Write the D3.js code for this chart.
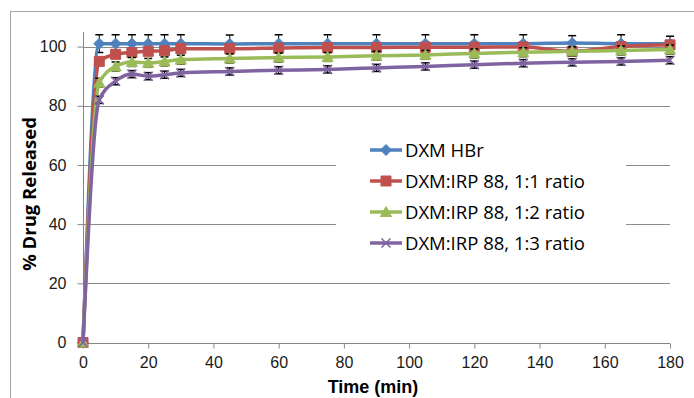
<!DOCTYPE html>
<html lang="en">
  <head>
    <meta charset="UTF-8" />
    <title>Drug release</title>
    <script src="https://d3js.org/d3.v7.min.js" charset="utf-8"></script>
    <style>
      body { margin: 0; background: #fff; }
      text { font-family: "Open Sans", "Liberation Sans", sans-serif; }
    </style>
  </head>
  <body>
    <div id="chart"></div>
    <script>
      // time points (min)
      const times = [0, 5, 10, 15, 20, 25, 30, 45, 60, 75, 90, 105, 120, 135, 150, 165, 180];

      const hbr = [0, 101, 101, 101, 101, 101, 101, 100.9, 101, 101, 101, 101, 101, 101, 101.2, 101, 101];
      const ratio11 = [0, 95, 97.4, 98, 98.4, 98.6, 99.3, 99.3, 99.5, 99.7, 99.7, 99.8, 99.8, 99.9, 98.4, 100, 100.6];
      const ratio12 = [0, 87.8, 93.3, 94.8, 94.5, 95, 95.6, 96, 96.3, 96.5, 96.9, 97.2, 97.7, 98.1, 98.4, 98.7, 99];
      const ratio13 = [0, 82, 88.3, 90.7, 90, 90.5, 91.1, 91.6, 92, 92.3, 92.8, 93.3, 93.9, 94.4, 94.7, 95, 95.4];

      const hbrErr = [0, 3, 3, 3, 3, 3, 3, 3, 3, 3, 3, 3, 3, 3, 2.5, 3, 2.5];
      const ratio11Err = [0, 1, 1, 1, 1, 1, 1, 1, 1, 1, 1, 1, 1, 1, 1, 1, 1];
      const ratio12Err = [0, 1.5, 1.5, 1.5, 1.5, 1.5, 1.5, 1.5, 1.5, 1.5, 1.5, 1.5, 1.5, 1.5, 1.5, 1.5, 1.5];
      const ratio13Err = [0, 1.2, 1.2, 1.2, 1.2, 1.2, 1.2, 1.2, 1.2, 1.2, 1.2, 1.2, 1.2, 1.2, 1.2, 1.2, 1.2];

      const names = ["DXM HBr", "DXM:IRP 88, 1:1 ratio", "DXM:IRP 88, 1:2 ratio", "DXM:IRP 88, 1:3 ratio"];
      const colors = ["#4F81BD", "#C0504D", "#9BBB59", "#8064A2"];
      const shapes = ["diamond", "square", "triangle", "cross"];

      const xTicks = [0, 20, 40, 60, 80, 100, 120, 140, 160, 180];
      const yTicks = [0, 20, 40, 60, 80, 100];

      const series = [hbr, ratio11, ratio12, ratio13].map((vals, i) => ({
        name: names[i],
        color: colors[i],
        shape: shapes[i],
        err: [hbrErr, ratio11Err, ratio12Err, ratio13Err][i],
        values: vals
      }));

      const width = 694;
      const height = 398;

      const x = d3.scaleLinear().domain([0, 180]).range([83, 670]);
      const y = d3.scaleLinear().domain([0, 105]).range([342.5, 31.8]);

      const svg = d3
        .select("#chart")
        .append("svg")
        .attr("width", width)
        .attr("height", height);

      // outer frame of the chart area
      svg.append("rect")
        .attr("x", 10.5)
        .attr("y", 11.5)
        .attr("width", 720)
        .attr("height", 420)
        .attr("fill", "#fff")
        .attr("stroke", "#a6a6a6");

      // gridlines
      svg.append("g")
        .selectAll("line")
        .data(yTicks.slice(1))
        .enter()
        .append("line")
        .attr("x1", x(0))
        .attr("x2", x(180))
        .attr("y1", d => Math.round(y(d)) + 0.5)
        .attr("y2", d => Math.round(y(d)) + 0.5)
        .attr("stroke", "#8c8c8c")
        .attr("stroke-width", 1);

      // axes
      const yAxis = d3.axisLeft(y).tickValues(yTicks).tickSize(6).tickPadding(11);
      const xAxis = d3.axisBottom(x).tickValues(xTicks).tickSize(5).tickPadding(8);

      const gy = svg.append("g")
        .attr("transform", "translate(" + (x(0) + 0.5) + ",0)")
        .call(yAxis);
      gy.select(".domain").attr("d", "M0," + y(105) + "V" + y(0)).attr("stroke", "#868686");

      const gx = svg.append("g")
        .attr("transform", "translate(0," + (Math.round(y(0)) + 0.5) + ")")
        .call(xAxis);
      gx.select(".domain").attr("d", "M" + x(0) + ",0H" + x(180)).attr("stroke", "#868686");

      svg.selectAll(".tick line").attr("stroke", "#868686");
      svg.selectAll(".tick text")
        .attr("font-size", 16)
        .attr("fill", "#1a1a1a")
        .style("font-family", "Liberation Sans, sans-serif");

      // axis titles
      svg.append("text")
        .attr("x", 373)
        .attr("y", 393)
        .attr("text-anchor", "middle")
        .attr("font-size", 18)
        .attr("font-weight", "bold")
        .style("font-family", "Liberation Sans, sans-serif")
        .text("Time (min)");

      svg.append("text")
        .attr("transform", "translate(36,194) rotate(-90)")
        .attr("text-anchor", "middle")
        .attr("font-size", 18.5)
        .attr("font-weight", "bold")
        .text("% Drug Released");

      function markerPath(shape) {
        if (shape === "diamond") return "M0,-5.5L5.5,0L0,5.5L-5.5,0Z";
        if (shape === "square") return "M-5,-5H5V5H-5Z";
        if (shape === "triangle") return "M0,-5.5L5.5,4.5H-5.5Z";
        return "M-4.5,-4.5L4.5,4.5M4.5,-4.5L-4.5,4.5";
      }

      const line = d3
        .line()
        .x((d, i) => x(times[i]))
        .y(d => y(d))
        .curve(d3.curveMonotoneX);

      series.forEach(s => {
        const g = svg.append("g");

        // error bars
        const eb = g.selectAll(".err")
          .data(s.values.map((v, i) => ({ t: times[i], v: v, e: s.err[i] })).filter(d => d.e > 0))
          .enter()
          .append("g");
        eb.append("line")
          .attr("x1", d => x(d.t))
          .attr("x2", d => x(d.t))
          .attr("y1", d => y(d.v - d.e))
          .attr("y2", d => y(d.v + d.e))
          .attr("stroke", "#000");
        eb.append("line")
          .attr("x1", d => x(d.t) - 4)
          .attr("x2", d => x(d.t) + 4)
          .attr("y1", d => y(d.v + d.e))
          .attr("y2", d => y(d.v + d.e))
          .attr("stroke", "#000")
          .attr("stroke-width", 1.5);
        eb.append("line")
          .attr("x1", d => x(d.t) - 4)
          .attr("x2", d => x(d.t) + 4)
          .attr("y1", d => y(d.v - d.e))
          .attr("y2", d => y(d.v - d.e))
          .attr("stroke", "#000")
          .attr("stroke-width", 1.5);

        g.append("path")
          .attr("d", line(s.values))
          .attr("fill", "none")
          .attr("stroke", s.color)
          .attr("stroke-width", 3.5)
          .attr("stroke-linejoin", "round");

        g.selectAll(".mk")
          .data(s.values)
          .enter()
          .append("path")
          .attr("transform", (d, i) => "translate(" + x(times[i]) + "," + y(d) + ")")
          .attr("d", markerPath(s.shape))
          .attr("fill", s.shape === "cross" ? "none" : s.color)
          .attr("stroke", s.color)
          .attr("stroke-width", s.shape === "cross" ? 1.5 : 1);
      });

      // legend
      const legend = svg.append("g");
      legend.append("rect")
        .attr("x", 336)
        .attr("y", 134)
        .attr("width", 290)
        .attr("height", 126)
        .attr("fill", "#fff");

      const rowY = [150, 181, 212, 243];
      const item = legend.selectAll(".item")
        .data(series)
        .enter()
        .append("g")
        .attr("transform", (d, i) => "translate(0," + rowY[i] + ")");
      item.append("line")
        .attr("x1", 370)
        .attr("x2", 402)
        .attr("stroke", d => d.color)
        .attr("stroke-width", 3.5);
      item.append("path")
        .attr("transform", "translate(386,0)")
        .attr("d", d => markerPath(d.shape))
        .attr("fill", d => (d.shape === "cross" ? "none" : d.color))
        .attr("stroke", d => d.color)
        .attr("stroke-width", d => (d.shape === "cross" ? 1.5 : 1));
      item.append("text")
        .attr("x", 405)
        .attr("y", 6.5)
        .attr("font-size", 18.5)
        .attr("fill", "#000")
        .text(d => d.name);
    </script>
  </body>
</html>
